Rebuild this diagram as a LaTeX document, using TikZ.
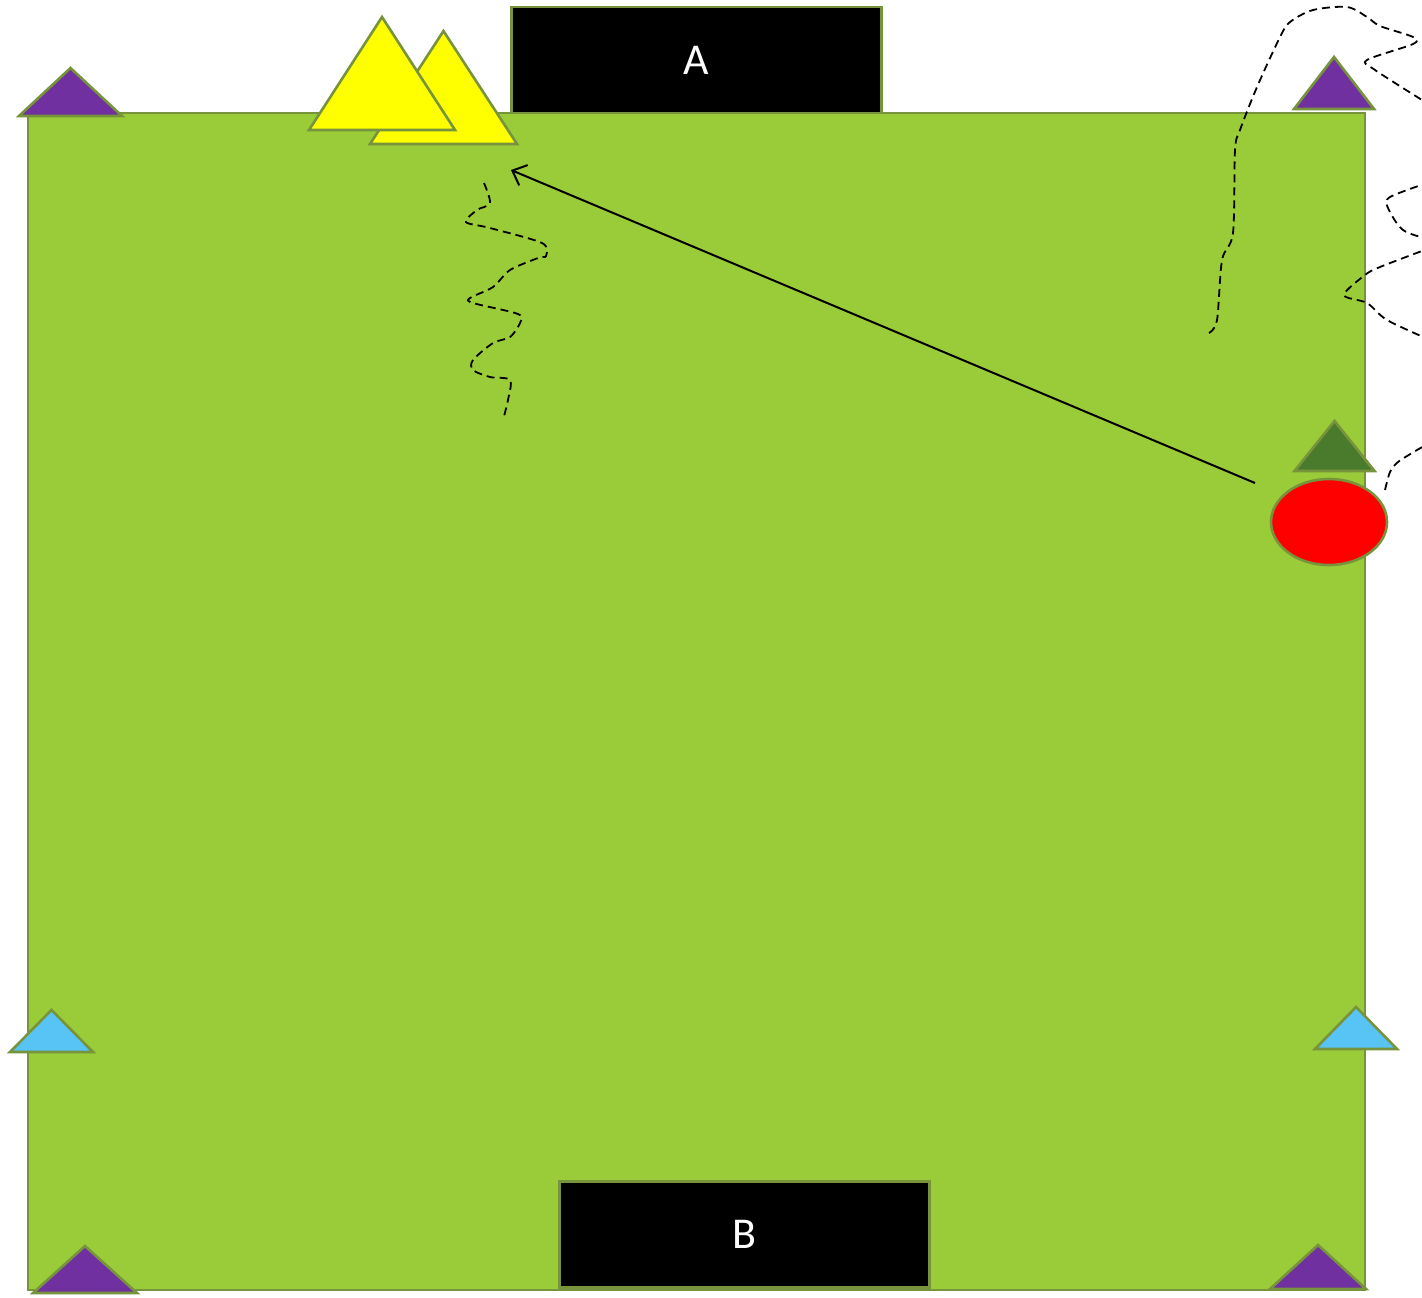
\documentclass[tikz,border=0pt]{standalone}
\usepackage{fontspec}
\setmainfont{Carlito}
\usetikzlibrary{arrows.meta,shapes.geometric}
\definecolor{pitch}{HTML}{9ACB38}
\definecolor{edge}{HTML}{77933C}
\definecolor{markerpurple}{HTML}{7030A0}
\definecolor{markercyan}{HTML}{57C4F5}
\definecolor{markerdark}{HTML}{4A7A2B}
\definecolor{markeryellow}{HTML}{FFFF00}
\tikzset{
  piece/.style={draw=edge,line width=1.3pt},
  goalbox/.style={piece,fill=black,text=white,inner sep=0pt,
    minimum width=185pt,minimum height=53pt,font=\fontsize{22}{26}\selectfont},
  run/.style={line width=0.9pt,dash pattern=on 4pt off 2.5pt},
  pass/.style={line width=1pt,-{Straight Barb[length=6pt,width=11pt]}}
}
% cone: centre x, base y, half width, height, colour
\newcommand{\cone}[5]{\draw[piece,fill=#5] (#1-#3,#2) -- (#1,#2-#4) -- (#1+#3,#2) -- cycle;}
\begin{document}
\begin{tikzpicture}[x=0.5pt,y=-0.5pt]
\useasboundingbox (0,0) rectangle (1422,1297);
\clip (0,0) rectangle (1422,1297);
% pitch
\draw[piece,fill=pitch] (28,113) rectangle (1365,1290);
\node (goalA) [goalbox] at (696.5,60) {A};
\node (goalB) [goalbox] at (744.5,1234.5) {B};
% corner and side markers
\cone{70.5}{116}{51.5}{48}{markerpurple}
\cone{1334}{109}{40}{52}{markerpurple}
\cone{85}{1293}{52}{47}{markerpurple}
\cone{1318}{1289}{48}{44}{markerpurple}
\cone{51.5}{1052}{41.5}{42}{markercyan}
\cone{1356}{1049}{41}{42}{markercyan}
\cone{1334.5}{471}{40}{50}{markerdark}
% players near goal A
\cone{443.5}{144}{73.5}{113}{markeryellow}
\cone{382}{130}{73}{113}{markeryellow}
% ball carrier
\node (ball) [piece,fill=red,ellipse,minimum width=58pt,minimum height=43pt,inner sep=0pt] at (1329,522) {};
% pass
\coordinate (kick) at (1255,483);
\coordinate (target) at (511,170);
\draw[pass] (kick) -- (target);
% runs
\draw[run] plot[smooth,tension=0.5] coordinates {(484,183) (490,203) (477,210) (466,222) (490,228) (542,243) (546,256) (538,258) (510,270) (493,287) (470,298) (473,303) (518,314) (520,323) (510,337) (493,343) (473,360) (473,370) (490,377) (510,380) (508,400) (503,420)};
\draw[run] plot[smooth,tension=0.5] coordinates {(1209,333) (1217,320) (1222,260) (1233,233) (1235,150) (1240,130) (1257,87) (1280,37) (1290,22) (1313,10) (1347,7) (1367,17) (1380,26) (1413,37) (1413,44) (1367,60) (1375,70) (1430,105)};
\draw[run] plot[smooth,tension=0.5] coordinates {(1430,182) (1390,197) (1388,208) (1403,230) (1430,240) (1440,245) (1430,248) (1380,267) (1365,275) (1344,295) (1367,303) (1387,320) (1430,340)};
\draw[run] plot[smooth,tension=0.5] coordinates {(1385,490) (1390,472) (1398,462) (1417,450) (1430,443)};
\end{tikzpicture}
\end{document}
